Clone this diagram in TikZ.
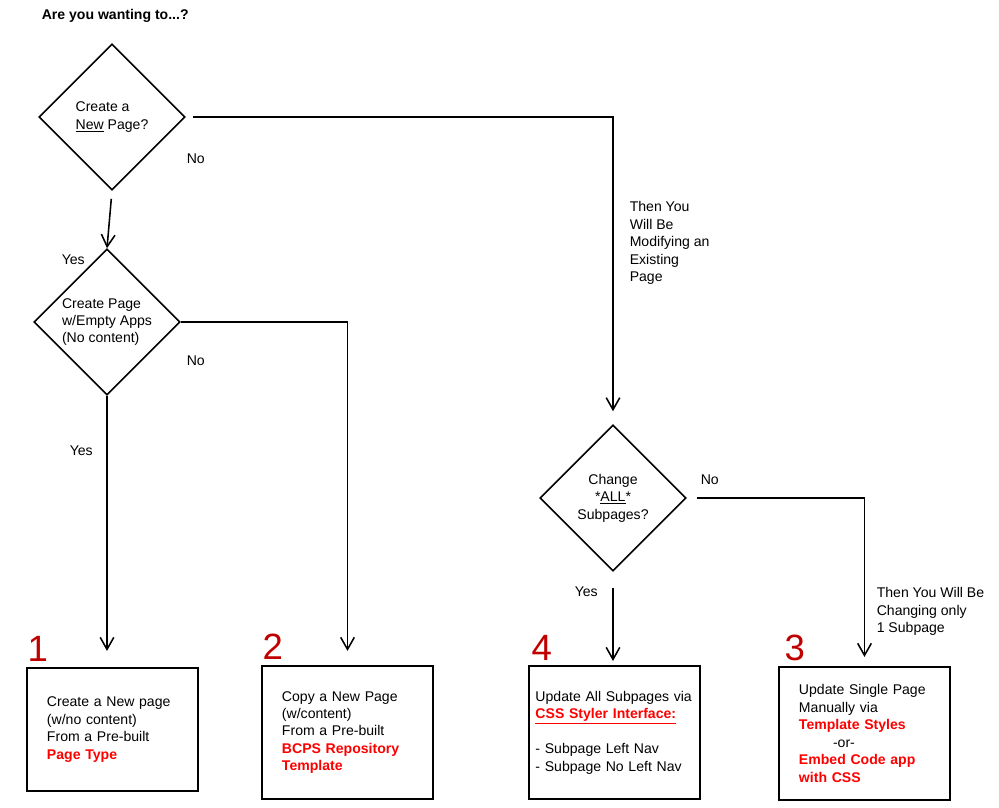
\documentclass[tikz,border=0pt]{standalone}
\usepackage{fontspec}
\setmainfont{Liberation Sans}
\usetikzlibrary{shapes.geometric,arrows.meta}
\definecolor{numred}{HTML}{C00000}
\newcommand{\hot}[1]{\textbf{\color{red}#1}}
\begin{document}
\begin{tikzpicture}[x=0.025cm,y=-0.025cm,line width=1.1pt,
  font=\fontsize{10}{12.4}\selectfont,
  ask/.style={diamond,draw,minimum width=3.65cm,minimum height=3.65cm,inner sep=0pt,align=left},
  outcome/.style={draw,line width=1.5pt,minimum width=4.275cm,minimum height=3.325cm,align=left},
  arr/.style={-{Straight Barb[length=3mm,width=3.4mm]}},
  num/.style={inner sep=0pt,anchor=south west,text=numred,font=\fontsize{26}{30}\selectfont},
  txt/.style={inner sep=0pt,anchor=base west}]
\useasboundingbox (0,0) rectangle (999,808);

\node[txt,font=\bfseries\fontsize{10}{12.4}\selectfont] (title) at (41,20) {Are you wanting to...?};

\node[ask] (new) at (112,117) {Create a\\\underline{New} Page?};
\node[ask] (empty) at (107,322) {Create Page\\w/Empty Apps\\(No content)};
\node[ask,align=center] (all) at (613,498) {Change\\*\underline{ALL}*\\Subpages?};

\node[outcome,minimum height=3.075cm,text width=3.275cm] (type) at (112.5,729.5) {Create a New page\\(w/no content)\\From a Pre-built\\\hot{Page Type}};
\node[outcome,text width=3.275cm] (repo) at (347.5,732.5) {Copy a New Page\\(w/content)\\From a Pre-built\\\hot{BCPS Repository}\\\hot{Template}};
\node[outcome,text width=3.95cm,inner xsep=0pt] (styler) at (614.5,732.5) {Update All Subpages via\\\hot{\underline{CSS Styler Interface:}}\\~\\- Subpage Left Nav\\- Subpage No Left Nav};
\node[outcome,text width=3.275cm] (single) at (864.5,733.5) {Update Single Page\\Manually via\\\hot{Template Styles}\\\hspace*{0.85cm}-or-\\\hot{Embed Code app}\\\hot{with CSS}};

\node[num] (n1) at ([shift={(1,-5)}]type.north west) {1};
\node[num] (n2) at ([shift={(1,-5)}]repo.north west) {2};
\node[num] (n4) at ([shift={(3,-4)}]styler.north west) {4};
\node[num] (n3) at ([shift={(6,-4)}]single.north west) {3};

\draw[arr,shorten <=0.2cm] (new.south) -- (empty.north);
\draw[arr,shorten <=0.175cm,shorten >=0.325cm] (new.east) -| (all.north);
\draw[arr,shorten >=0.35cm] (empty.east) -| (repo.north);
\draw[arr,shorten >=0.4cm] (empty.south) -- (empty.south |- type.north);
\draw[arr,shorten <=0.4cm,shorten >=0.1cm] (all.south) -- (all.south |- styler.north);
\draw[arr,shorten <=0.25cm,shorten >=0.225cm] (all.east) -| (single.north);

\node[txt] (no1) at (186,163) {No};
\node[txt] (yes1) at (61,264) {Yes};
\node[txt] (no2) at (186,365) {No};
\node[txt] (yes2) at (69,455) {Yes};
\node[txt] (no3) at (700,484) {No};
\node[txt] (yes3) at (574,596) {Yes};
\node[inner sep=0pt,anchor=north west,align=left] (modify) at (629,201) {Then You\\Will Be\\Modifying an\\Existing\\Page};
\node[inner sep=0pt,anchor=north west,align=left] (change) at (876,587) {Then You Will Be\\Changing only\\1 Subpage};

\end{tikzpicture}
\end{document}
